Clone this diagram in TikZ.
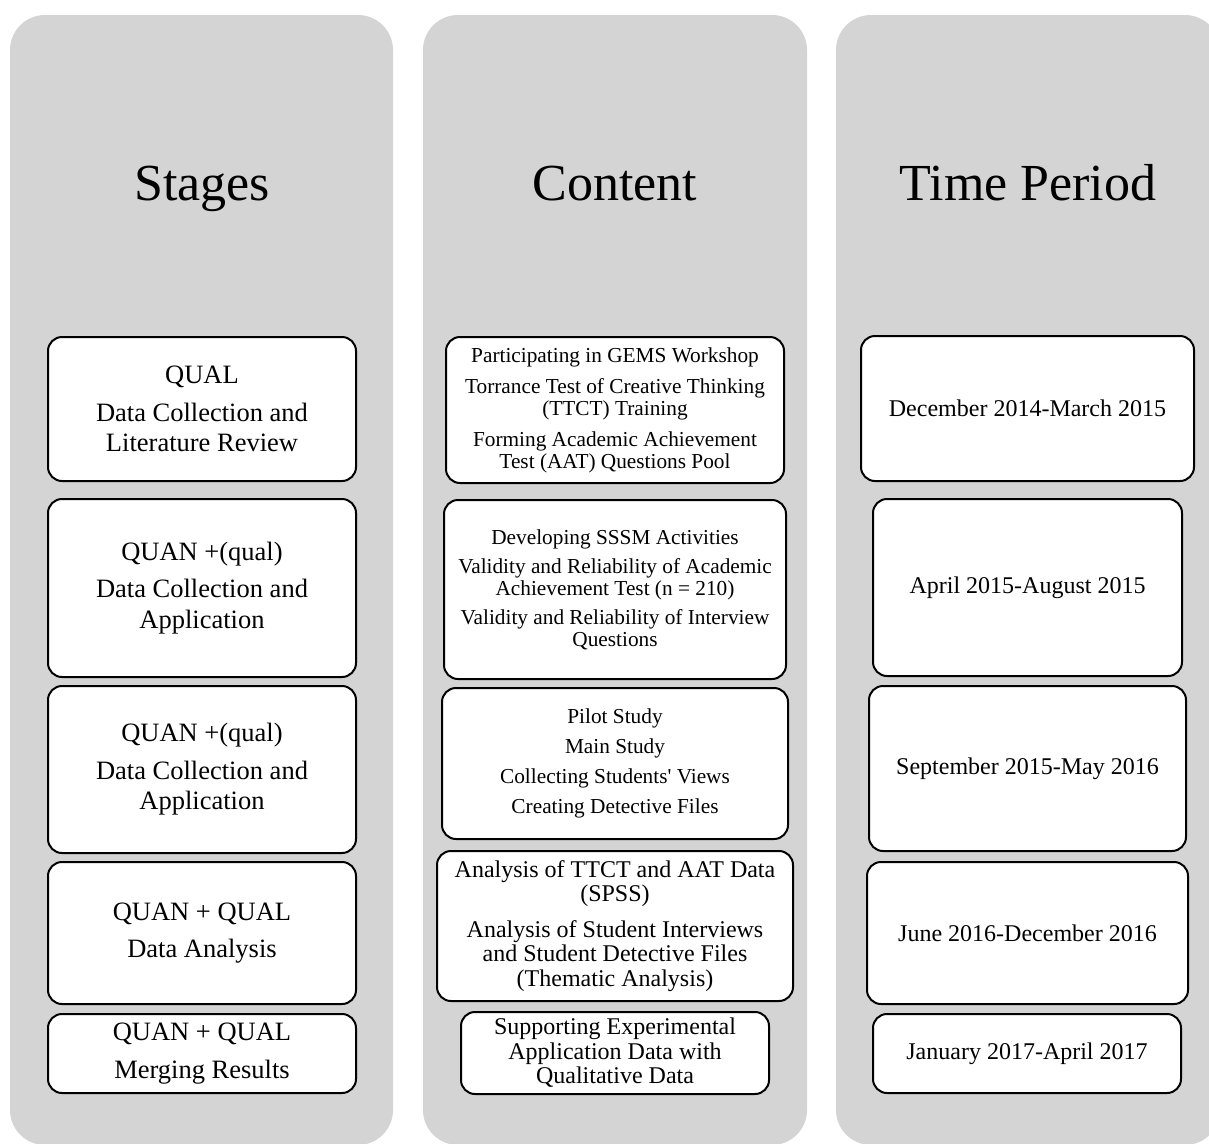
\documentclass[tikz,border=0pt]{standalone}
\usepackage{fontspec}
\setmainfont{Liberation Serif}
\usetikzlibrary{calc}
\definecolor{colgray}{RGB}{212,212,212}
\tikzset{
	column/.style={fill=colgray, rounded corners=35pt},
	heading/.style={anchor=base, font=\fontsize{52}{60}\selectfont},
	cell/.style={draw=black, line width=2pt, fill=white, rounded corners=14pt, inner sep=0pt, align=center},
	stagecell/.style={cell, font=\fontsize{26.5}{30.5}\selectfont},
	contentcell/.style={cell, font=\fontsize{21.3}{22}\selectfont},
	bigcontentcell/.style={cell, font=\fontsize{24}{24.5}\selectfont},
	timecell/.style={cell, font=\fontsize{24}{28}\selectfont}
}
\begin{document}
\begin{tikzpicture}[x=1pt, y=-1pt]
		\useasboundingbox (0,0) rectangle (1209,1143);
		\fill[column] (10,15) rectangle (393,1145);
		\fill[column] (423,15) rectangle (807,1145);
		\fill[column] (836,15) rectangle (1220,1145);
		\node[heading] (hstages) at (202,200) {Stages};
		\node[heading] (hcontent) at (615,200) {Content};
		\node[heading] (htime) at (1028,200) {Time Period};
		\node[stagecell, minimum width=308, minimum height=144] (st1) at (202,409) {QUAL\\[7pt]Data Collection and\\Literature Review};
		\node[stagecell, minimum width=308, minimum height=178] (st2) at (202,588) {QUAN +(qual)\\[7pt]Data Collection and\\Application};
		\node[stagecell, minimum width=308, minimum height=167] (st3) at (202,769.5) {QUAN +(qual)\\[7pt]Data Collection and\\Application};
		\node[stagecell, minimum width=308, minimum height=142] (st4) at (202,933) {QUAN + QUAL\\[7pt]Data Analysis};
		\node[stagecell, minimum width=308, minimum height=79] (st5) at (202,1053.5) {QUAN + QUAL\\[7pt]Merging Results};
		\node[contentcell, minimum width=338, minimum height=146] (ct1) at (615,410) {Participating in GEMS Workshop\\[9pt]Torrance Test of Creative Thinking\\(TTCT) Training\\[9pt]Forming Academic Achievement\\Test (AAT) Questions Pool};
		\node[contentcell, minimum width=342, minimum height=179] (ct2) at (615,589.5) {Developing SSSM Activities\\[7pt]Validity and Reliability of Academic\\Achievement Test (n = 210)\\[7pt]Validity and Reliability of Interview\\Questions};
		\node[contentcell, minimum width=346, minimum height=151] (ct3) at (615,763.5) {Pilot Study\\[8pt]Main Study\\[8pt]Collecting Students\textquotesingle{} Views\\[8pt]Creating Detective Files};
		\node[bigcontentcell, minimum width=356, minimum height=150] (ct4) at (615,926) {Analysis of TTCT and AAT Data\\(SPSS)\\[11pt]Analysis of Student Interviews\\and Student Detective Files\\(Thematic Analysis)};
		\node[bigcontentcell, minimum width=308, minimum height=82] (ct5) at (615,1053) {Supporting Experimental\\Application Data with\\Qualitative Data};
		\node[timecell, minimum width=333, minimum height=145] (tp1) at (1027.5,408.5) {December 2014-March 2015};
		\node[timecell, minimum width=309, minimum height=177] (tp2) at (1027.5,587.5) {April 2015-August 2015};
		\node[timecell, minimum width=317, minimum height=165] (tp3) at (1027.5,768.5) {September 2015-May 2016};
		\node[timecell, minimum width=321, minimum height=142] (tp4) at (1027.5,933) {June 2016-December 2016};
		\node[timecell, minimum width=308, minimum height=79] (tp5) at (1027,1053.5) {January 2017-April 2017};
\end{tikzpicture}
\end{document}
